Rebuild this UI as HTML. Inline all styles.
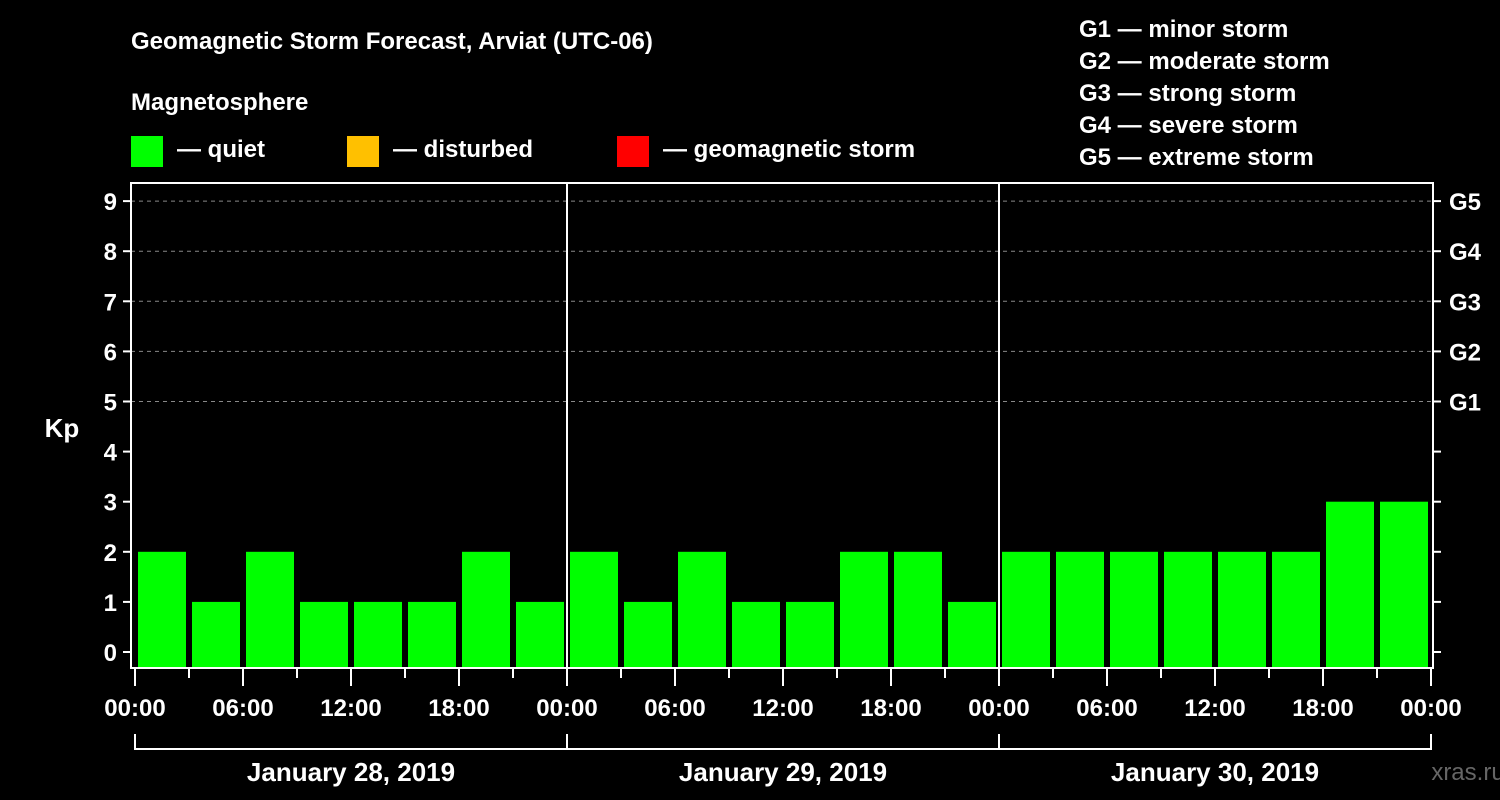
<!DOCTYPE html>
<html><head><meta charset="utf-8"><style>
html,body{margin:0;padding:0;background:#000;}
svg{display:block;font-family:"Liberation Sans",Arial,sans-serif;font-weight:bold;}
</style></head><body>
<svg id="chart" width="1500" height="800" viewBox="0 0 1500 800">
<rect width="1500" height="800" fill="#000"/>
<text x="131" y="49" fill="#fff" font-size="24">Geomagnetic Storm Forecast, Arviat (UTC-06)</text>
<text x="131" y="110" fill="#fff" font-size="24">Magnetosphere</text>
<g><rect x="131" y="136" width="32" height="31" fill="#00ff00"/><text x="177" y="157" fill="#fff" font-size="24">— quiet</text></g>
<g><rect x="347" y="136" width="32" height="31" fill="#ffc000"/><text x="393" y="157" fill="#fff" font-size="24">— disturbed</text></g>
<g><rect x="617" y="136" width="32" height="31" fill="#ff0000"/><text x="663" y="157" fill="#fff" font-size="24">— geomagnetic storm</text></g>
<g fill="#fff" font-size="24">
<text x="1079" y="37">G1 — minor storm</text>
<text x="1079" y="69">G2 — moderate storm</text>
<text x="1079" y="101">G3 — strong storm</text>
<text x="1079" y="133">G4 — severe storm</text>
<text x="1079" y="165">G5 — extreme storm</text>
</g>
<text x="62" y="437" fill="#fff" font-size="26" text-anchor="middle">Kp</text>
<text x="1468" y="780" fill="#666" font-size="24" text-anchor="middle" font-weight="normal">xras.ru</text>
<g id="grid"></g><g id="bars"></g><g id="axes"></g>
</svg>
<script>
const days = ["January 28, 2019","January 29, 2019","January 30, 2019"];
const kpValues = [2,1,2,1,1,1,2,1, 2,1,2,1,1,2,2,1, 2,2,2,2,2,2,3,3];
const yTicks = [0,1,2,3,4,5,6,7,8,9];
const gLabels = ["G1","G2","G3","G4","G5"];
const xTickLabels = ["00:00","06:00","12:00","18:00"];
const NS="http://www.w3.org/2000/svg";
const X0=135, DAYW=432, SLOT=DAYW/8;
const PL=131, PR=1433, PT=183, PB=668;
function y(v){return 652 - v*50.1;}
function x(i){return X0 + i*SLOT;}
function mk(tag,attrs,parent,txt){const e=document.createElementNS(NS,tag);for(const k in attrs)e.setAttribute(k,attrs[k]);if(txt!==undefined)e.textContent=txt;parent.appendChild(e);return e;}
const grid=document.getElementById('grid'),bars=document.getElementById('bars'),axes=document.getElementById('axes');
yTicks.forEach(v=>{
  if(v>=5){const l=mk('line',{x1:PL,x2:PR,y1:y(v),y2:y(v),stroke:'#888','stroke-dasharray':'4,4','stroke-width':1},grid);
  
  }
  const t=mk('line',{x1:PL-8,x2:PL,y1:y(v),y2:y(v),stroke:'#fff','stroke-width':2},axes);
  
  
  const t2=mk('line',{x1:PR,x2:PR+8,y1:y(v),y2:y(v),stroke:'#fff','stroke-width':2},axes);
  
  
  const lb=mk('text',{x:PL-14,y:y(v)+9,fill:'#fff','font-size':24,'text-anchor':'end'},axes,String(v));
  
  
});
gLabels.forEach((g,i)=>{
  const t=mk('text',{x:1449,y:y(5+i)+9,fill:'#fff','font-size':24},axes,g);
  
  
});
kpValues.forEach((v,i)=>{
  const r=mk('rect',{x:x(i)+3,y:y(v),width:SLOT-6,height:PB-1-y(v),fill:'#00ff00'},bars);
  
  
});
const fr=mk('rect',{x:PL,y:PT,width:PR-PL,height:PB-PT,fill:'none',stroke:'#fff','stroke-width':2},axes);


for(let d=1;d<days.length;d++){
  const l=mk('line',{x1:X0+d*DAYW,x2:X0+d*DAYW,y1:PT,y2:PB,stroke:'#fff','stroke-width':2},axes);
  
  
}
for(let i=0;i<=days.length*8;i++){
  const major=i%2===0;
  const t=mk('line',{x1:x(i),x2:x(i),y1:PB,y2:major?686:678,stroke:'#fff','stroke-width':2},axes);
  
  
  if(major){
    const lb=mk('text',{x:x(i),y:716,fill:'#fff','font-size':24,'text-anchor':'middle'},axes,xTickLabels[(i/2)%4]);
    
    
  }
}
const br=mk('line',{x1:X0,x2:X0+days.length*DAYW,y1:749,y2:749,stroke:'#fff','stroke-width':2},axes);


days.forEach((d,i)=>{
  const v=mk('line',{x1:X0+i*DAYW,x2:X0+i*DAYW,y1:734,y2:750,stroke:'#fff','stroke-width':2},axes);
  
  
  const t=mk('text',{x:X0+i*DAYW+DAYW/2,y:781,fill:'#fff','font-size':26,'text-anchor':'middle'},axes,d);
  
  
});
const ve=mk('line',{x1:X0+days.length*DAYW,x2:X0+days.length*DAYW,y1:734,y2:750,stroke:'#fff','stroke-width':2},axes);


</script>
</body></html>
